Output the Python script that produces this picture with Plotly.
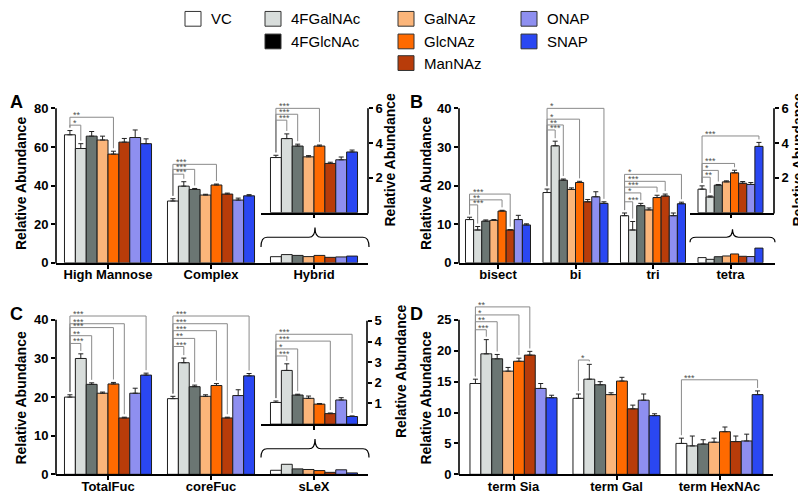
import plotly.graph_objects as go

W, H = 806, 494

series = ["VC", "4FGalNAc", "4FGlcNAc", "GalNAz", "GlcNAz", "ManNAz", "ONAP", "SNAP"]
bar_colors = ["#ffffff", "#d8dddb", "#6b7673", "#fbb57a", "#ff6a00", "#b83c0a", "#8e8ff0", "#2a47f2"]
legend_colors = ["#ffffff", "#d8dddb", "#000000", "#fbb57a", "#ff6a00", "#b83c0a", "#8e8ff0", "#2a47f2"]

# ---------------- Panel A ----------------
a_categories = ["High Mannose", "Complex", "Hybrid"]
a_high_mannose = [66.3, 59.2, 65.6, 63.6, 56.3, 62.5, 64.9, 61.7]
a_high_mannose_err = [2.2, 2.5, 2.4, 2.0, 1.5, 1.9, 3.9, 2.5]
a_complex = [32.0, 39.7, 38.0, 35.1, 40.3, 35.6, 32.5, 34.7]
a_complex_err = [1.2, 2.3, 0.5, 0.4, 0.5, 0.5, 1.0, 0.6]
a_hybrid = [3.17, 4.26, 3.83, 3.21, 3.83, 2.83, 3.04, 3.49]
a_hybrid_err = [0.13, 0.27, 0.11, 0.07, 0.06, 0.07, 0.16, 0.11]

# ---------------- Panel B ----------------
b_categories = ["bisect", "bi", "tri", "tetra"]
b_bisect = [11.2, 8.5, 10.8, 11.0, 13.4, 8.5, 11.2, 9.8]
b_bisect_err = [0.6, 0.9, 0.3, 0.2, 0.2, 0.1, 1.1, 0.3]
b_bi = [18.2, 30.3, 21.4, 19.0, 20.8, 15.8, 17.1, 15.4]
b_bi_err = [0.9, 1.2, 0.3, 0.4, 0.3, 0.6, 1.3, 0.4]
b_tri = [12.2, 8.5, 14.8, 13.7, 16.9, 17.3, 12.2, 15.3]
b_tri_err = [0.7, 2.2, 0.6, 0.5, 0.6, 0.5, 0.7, 0.4]
b_tetra = [1.35, 0.90, 1.58, 1.77, 2.29, 1.69, 1.62, 3.81]
b_tetra_err = [0.19, 0.06, 0.04, 0.06, 0.15, 0.10, 0.11, 0.23]

# ---------------- Panel C ----------------
c_categories = ["TotalFuc", "coreFuc", "sLeX"]
c_total_fuc = [20.0, 30.0, 23.3, 21.0, 23.4, 14.6, 21.0, 25.7]
c_total_fuc_err = [0.6, 1.2, 0.4, 0.3, 0.4, 0.2, 1.3, 0.5]
c_core_fuc = [19.6, 28.9, 22.7, 20.2, 23.0, 14.6, 20.4, 25.5]
c_core_fuc_err = [0.6, 1.2, 0.4, 0.4, 0.5, 0.2, 1.5, 0.6]
c_slex = [1.05, 2.60, 1.41, 1.25, 0.97, 0.51, 1.17, 0.37]
c_slex_err = [0.07, 0.32, 0.04, 0.11, 0.03, 0.03, 0.11, 0.03]

# ---------------- Panel D ----------------
d_categories = ["term Sia", "term Gal", "term HexNAc"]
d_term_sia = [14.7, 19.5, 18.7, 16.7, 18.3, 19.3, 13.9, 12.4]
d_term_sia_err = [0.7, 2.3, 0.7, 0.6, 0.5, 0.6, 0.8, 0.4]
d_term_gal = [12.3, 15.4, 14.5, 12.9, 15.1, 10.6, 12.0, 9.5]
d_term_gal_err = [0.7, 2.4, 0.5, 0.3, 0.6, 0.6, 1.0, 0.3]
d_term_hexnac = [5.0, 4.6, 4.9, 5.2, 6.9, 5.3, 5.4, 12.9]
d_term_hexnac_err = [0.85, 1.6, 0.7, 0.65, 0.76, 0.9, 1.1, 0.6]

# significance brackets: (category index, target series index, bracket level, label)
a_sig = [(0, 4, 75.4, "**"), (0, 1, 71.3, "*"),
         (1, 4, 51.0, "***"), (1, 2, 48.4, "***"), (1, 1, 45.9, "***")]
a_inset_sig = [(0, 4, 6.0, "***"), (0, 2, 5.66, "***"), (0, 1, 5.32, "***")]
b_sig = [(0, 5, 17.8, "***"), (0, 4, 16.3, "**"), (0, 1, 15.0, "***"),
         (1, 7, 40.0, "*"), (1, 4, 37.2, "*"), (1, 2, 35.7, "**"), (1, 1, 34.4, "***"),
         (2, 7, 22.9, "*"), (2, 5, 21.1, "***"), (2, 4, 19.6, "***"), (2, 2, 18.1, "*"), (2, 1, 15.8, "***")]
b_inset_sig = [(0, 7, 4.41, "***"), (0, 4, 2.83, "***"), (0, 2, 2.43, "*"), (0, 1, 2.04, "**")]
c_sig = [(0, 7, 41.0, "***"), (0, 5, 39.0, "***"), (0, 4, 38.0, "***"), (0, 2, 35.9, "**"), (0, 1, 33.9, "***"),
         (1, 7, 41.0, "***"), (1, 5, 39.0, "***"), (1, 4, 37.2, "***"), (1, 2, 35.2, "**"), (1, 1, 33.1, "***")]
c_inset_sig = [(0, 7, 4.35, "***"), (0, 5, 4.02, "***"), (0, 2, 3.64, "*"), (0, 1, 3.30, "***")]
d_sig = [(0, 5, 27.1, "**"), (0, 4, 25.8, "*"), (0, 2, 24.7, "**"), (0, 1, 23.4, "***"),
         (1, 1, 18.5, "*"), (2, 7, 15.3, "***")]

FONT = "Liberation Sans, Arial, sans-serif"
BOLD = dict(family=FONT, size=13, color="black", weight="bold")

fig = go.Figure()
layout = dict(width=W, height=H, margin=dict(l=0, r=0, t=0, b=0), autosize=False,
              paper_bgcolor="white", plot_bgcolor="rgba(0,0,0,0)", showlegend=False,
              barmode="overlay", shapes=[], annotations=[])


def px(x):
    return x / W


def py(y):
    return 1 - y / H


def make_axes(n, x0, x1, c0, spacing, base, ppu, top, ytickvals, side, xticktext):
    sfx = "" if n == 1 else str(n)
    ytop = (base - top) / ppu
    layout["xaxis" + sfx] = dict(
        domain=[px(x0), px(x1)], range=[(x0 - c0) / spacing, (x1 - c0) / spacing],
        anchor="y" + sfx, showline=True, linecolor="black", linewidth=1.6,
        ticks="outside", ticklen=4, tickwidth=1.5, tickcolor="black",
        tickvals=list(range(len(xticktext))), ticktext=xticktext, ticklabelstandoff=-5,
        tickfont=BOLD, showgrid=False, zeroline=False, fixedrange=True)
    layout["yaxis" + sfx] = dict(
        domain=[py(base), py(top)], range=[0, ytop], anchor="x" + sfx, side=side,
        showline=False, ticks="outside", ticklen=4, tickwidth=1.5, tickcolor="black",
        tickvals=ytickvals, tickfont=BOLD, showgrid=False, zeroline=False, fixedrange=True)
    # visible axis line from 0 up to the last tick
    xl = x0 if side == "left" else x1
    ytick_px = base - max(ytickvals) * ppu
    layout["shapes"].append(dict(type="line", xref="paper", yref="paper",
                                 x0=px(xl), x1=px(xl), y0=py(base + 0.8), y1=py(ytick_px),
                                 line=dict(color="black", width=1.6)))
    return sfx, ppu


def add_bars(sfx, positions, groups, errs, gw, show_err=True):
    w = gw / 8
    for i, s in enumerate(series):
        y = [g[i] for g in groups]
        kw = {}
        if show_err:
            kw["error_y"] = dict(type="data", symmetric=False, array=[e[i] for e in errs],
                                 arrayminus=[0] * len(groups), color="#222222",
                                 thickness=1, width=2.5)
        fig.add_trace(go.Bar(x=positions, y=y, width=w, offset=-gw / 2 + i * w,
                             marker=dict(color=bar_colors[i], line=dict(color="#1e1e1e", width=1)),
                             xaxis="x" + sfx, yaxis="y" + sfx, name=s, showlegend=False, **kw))


def add_sig(sfx, ppu, sigs, groups, errs, gw):
    w = gw / 8
    gap = 3.0 / ppu
    for cat, t, level, label in sigs:
        xl = cat - gw / 2 + w * 0.5
        xr = cat - gw / 2 + w * (t + 0.5)
        yl = groups[cat][0] + errs[cat][0] + gap
        yr = groups[cat][t] + errs[cat][t] + gap
        layout["shapes"].append(dict(
            type="path", xref="x" + sfx, yref="y" + sfx,
            path=f"M {xl},{yl} L {xl},{level} L {xr},{level} L {xr},{yr}",
            line=dict(color="#8a8a8a", width=1)))
        layout["annotations"].append(dict(
            x=xl, y=level, xref="x" + sfx, yref="y" + sfx, text=label, showarrow=False,
            xanchor="left", yanchor="bottom", xshift=2, yshift=-4, borderpad=0,
            font=dict(family=FONT, size=9, color="#505050")))


def brace(x0, x1, y_end, y_mid, y_peak):
    xm = (x0 + x1) / 2
    r = 6
    pts = (f"M {px(x0)},{py(y_end)} Q {px(x0)},{py(y_mid)} {px(x0 + r)},{py(y_mid)} "
           f"L {px(xm - r)},{py(y_mid)} Q {px(xm)},{py(y_mid)} {px(xm)},{py(y_peak)} "
           f"Q {px(xm)},{py(y_mid)} {px(xm + r)},{py(y_mid)} "
           f"L {px(x1 - r)},{py(y_mid)} Q {px(x1)},{py(y_mid)} {px(x1)},{py(y_end)}")
    layout["shapes"].append(dict(type="path", xref="paper", yref="paper", path=pts,
                                 line=dict(color="black", width=1.2)))


GW = 0.845
GWB = 0.839

# ---- Panel A ----
sA, pA = make_axes(1, 48, 360, 100, 103, 259, 157 / 80, 80, [0, 20, 40, 60, 80], "left", a_categories)
add_bars(sA, [0, 1], [a_high_mannose, a_complex], [a_high_mannose_err, a_complex_err], GW)
add_bars(sA, [2], [a_hybrid], None, GW, show_err=False)
add_sig(sA, pA, a_sig, [a_high_mannose, a_complex], [a_high_mannose_err, a_complex_err], GW)
sAi, pAi = make_axes(2, 253, 360, 306, 103, 208, 106 / 6, 92, [2, 4, 6], "right", [""])
add_bars(sAi, [0], [a_hybrid], [a_hybrid_err], GW)
add_sig(sAi, pAi, a_inset_sig, [a_hybrid], [a_hybrid_err], GW)
brace(253, 361, 243, 233, 223)

# ---- Panel B ----
sB, pB = make_axes(3, 451, 767, 490, 77.5, 259, 157 / 40, 80, [0, 10, 20, 30, 40], "left", b_categories)
add_bars(sB, [0, 1, 2], [b_bisect, b_bi, b_tri], [b_bisect_err, b_bi_err, b_tri_err], GWB)
add_bars(sB, [3], [b_tetra], None, GWB, show_err=False)
add_sig(sB, pB, b_sig, [b_bisect, b_bi, b_tri], [b_bisect_err, b_bi_err, b_tri_err], GWB)
sBi, pBi = make_axes(4, 682, 766, 722.5, 77.5, 208, 106 / 6, 92, [2, 4, 6], "right", [""])
add_bars(sBi, [0], [b_tetra], [b_tetra_err], GWB)
add_sig(sBi, pBi, b_inset_sig, [b_tetra], [b_tetra_err], GWB)
brace(682, 767, 238, 233, 225)

# ---- Panel C ----
sC, pC = make_axes(5, 48, 360, 100, 103, 474, 157 / 40, 295, [0, 10, 20, 30, 40], "left", c_categories)
add_bars(sC, [0, 1], [c_total_fuc, c_core_fuc], [c_total_fuc_err, c_core_fuc_err], GW)
add_bars(sC, [2], [c_slex], None, GW, show_err=False)
add_sig(sC, pC, c_sig, [c_total_fuc, c_core_fuc], [c_total_fuc_err, c_core_fuc_err], GW)
sCi, pCi = make_axes(6, 253, 359, 306, 103, 423, 105 / 5, 305, [1, 2, 3, 4, 5], "right", [""])
add_bars(sCi, [0], [c_slex], [c_slex_err], GW)
add_sig(sCi, pCi, c_inset_sig, [c_slex], [c_slex_err], GW)
brace(253, 361, 457, 448, 438)

# ---- Panel D ----
sD, pD = make_axes(7, 451, 765, 505.5, 103, 474, 157 / 25, 295, [0, 5, 10, 15, 20, 25], "left", d_categories)
add_bars(sD, [0, 1, 2], [d_term_sia, d_term_gal, d_term_hexnac],
         [d_term_sia_err, d_term_gal_err, d_term_hexnac_err], GW)
add_sig(sD, pD, d_sig, [d_term_sia, d_term_gal, d_term_hexnac],
        [d_term_sia_err, d_term_gal_err, d_term_hexnac_err], GW)

# ---- titles & panel letters ----
TITLE = dict(family=FONT, size=14, color="black", weight="bold")
for (x, y) in [(13, 178), (418, 178), (13, 396), (418, 396), (382, 154), (790, 154), (393, 369)]:
    layout["annotations"].append(dict(x=px(x), y=py(y), xref="paper", yref="paper",
                                      text="Relative Abundance", textangle=-90, showarrow=False,
                                      font=TITLE, xanchor="center", yanchor="middle"))
for letter, (x, y) in zip("ABCD", [(8, 96), (408, 96), (8, 311), (408, 311)]):
    layout["annotations"].append(dict(x=px(x), y=py(y), xref="paper", yref="paper", text=letter,
                                      showarrow=False, xanchor="center", yanchor="middle",
                                      font=dict(family=FONT, size=18, color="black", weight="bold")))

# ---- legend (drawn manually to reproduce the multi-column layout) ----
legend_pos = {  # box left x, row center y
    "VC": (177, 11), "4FGalNAc": (257, 11), "4FGlcNAc": (257, 34),
    "GalNAz": (390, 11), "GlcNAz": (390, 34), "ManNAz": (390, 56),
    "ONAP": (513, 11), "SNAP": (513, 34),
}
for i, s in enumerate(series):
    bx, cy = legend_pos[s]
    layout["shapes"].append(dict(type="rect", xref="paper", yref="paper",
                                 x0=px(bx), x1=px(bx + 16), y0=py(cy + 7.5), y1=py(cy - 7.5),
                                 fillcolor=legend_colors[i], line=dict(color="#333333", width=1)))
    layout["annotations"].append(dict(x=px(bx + 24), y=py(cy), xref="paper", yref="paper",
                                      text=s, showarrow=False, xanchor="left", yanchor="middle",
                                      font=dict(family=FONT, size=15, color="black")))

fig.update_layout(**layout)
fig.write_html("out.html")
